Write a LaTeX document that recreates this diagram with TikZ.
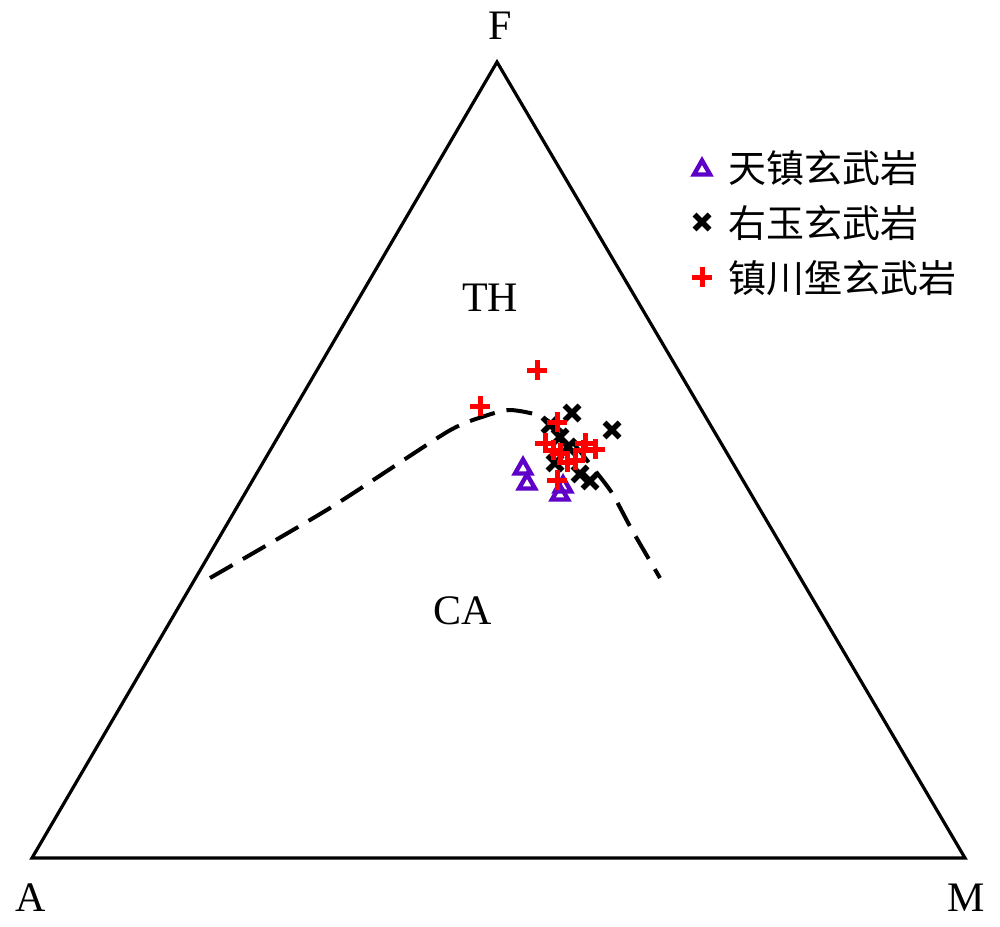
\documentclass[tikz,border=0pt]{standalone}
\usepackage{fontspec}
\setmainfont{Liberation Serif}
\newfontfamily\cjk{Noto Sans CJK SC}
\definecolor{purp}{RGB}{95,0,200}
\definecolor{redm}{RGB}{255,0,0}
\tikzset{
  frame/.style={line width=3.2pt, line join=miter},
  bound/.style={line width=4pt, dash pattern=on 26pt off 12pt},
  lab/.style={inner sep=0pt, font=\fontsize{42}{48}\selectfont},
  leg/.style={inner sep=0pt, anchor=west, font=\cjk\fontsize{38}{42}\selectfont},
  tri/.pic={\draw[purp, line width=4.4pt, line join=miter] (0,-7.5) -- (8,6.5) -- (-8,6.5) -- cycle;},
  xm/.pic={\draw[black, line width=5.4pt] (-7.5,-7.5) -- (7.5,7.5) (-7.5,7.5) -- (7.5,-7.5);},
  pl/.pic={\draw[redm, line width=5pt] (-10,0) -- (10,0) (0,-10) -- (0,10);}
}
\begin{document}
\begin{tikzpicture}[x=1pt,y=-1pt]
\useasboundingbox (0,0) rectangle (1000,926);
\fill[white] (0,0) rectangle (1000,926);
% triangle
\coordinate (F) at (497,62);
\coordinate (A) at (32,858);
\coordinate (M) at (965,858);
\draw[frame] (A) -- (F) -- (M) -- cycle;
% labels
\node[lab] (lF) at (500,26) {F};
\node[lab] (lA) at (31,898) {A};
\node[lab] (lM) at (966,898) {M};
\node[lab] (lTH) at (490,298) {TH};
\node[lab] (lCA) at (463,611) {CA};
% boundary
\draw[bound] plot[smooth, tension=0.4] coordinates {(210,578) (330,508) (447,432) (485,416) (510,410) (540,416) (567,436) (593,468) (612,493) (632,530) (660,578)};
% data: triangles
\foreach \p in {(523,467),(527,482),(560,493),(563,485)} \pic at \p {tri};
% data: crosses
\foreach \p in {(572,413),(612,430),(550,425),(560,437),(568,447),(555,463),(580,474),(590,481)} \pic at \p {xm};
% data: plus
\foreach \p in {(537,370),(480,406),(557,422),(545,443),(553,450),(560,453),(567,462),(575,460),(585,443),(583,450),(595,449),(557,480)} \pic at \p {pl};
% legend
\pic at (702,168) {tri};
\pic at (702,222) {xm};
\pic at (702,277) {pl};
\node[leg] (g1) at (728,168) {天镇玄武岩};
\node[leg] (g2) at (728,223) {右玉玄武岩};
\node[leg] (g3) at (728,278) {镇川堡玄武岩};
\end{tikzpicture}
\end{document}
